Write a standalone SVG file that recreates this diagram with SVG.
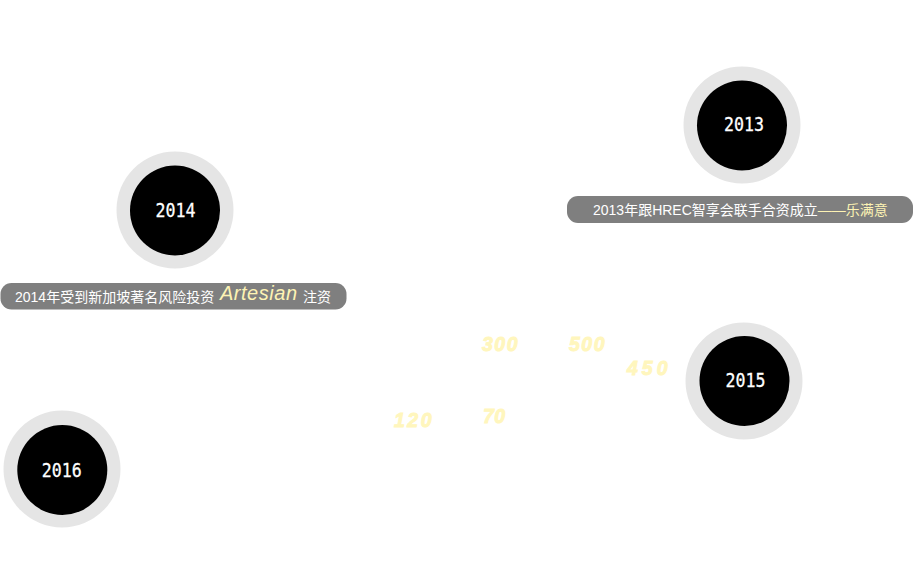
<svg xmlns="http://www.w3.org/2000/svg" width="914" height="571" viewBox="0 0 914 571">
<style>
.ring{fill:#e5e5e5}
.core{fill:#000}
.year{fill:#fff;font-family:"DejaVu Sans Mono","Liberation Mono",monospace;font-size:20px;text-anchor:middle;stroke:#fff;stroke-width:0.3}
.pill{fill:#7f7f7f}
.ptxt{fill:#fff;font-family:"Liberation Sans","Noto Sans CJK SC",sans-serif;font-size:14px}
.hl{fill:#fdf3b4}
.num{fill:#fff6bd;stroke:#fff6bd;stroke-width:0.9;font-family:"Liberation Sans",Arial,sans-serif;font-size:19.5px;font-weight:bold;font-style:italic}
</style>
<rect width="914" height="571" fill="#fff"/>
<g id="connectors"/>
<g id="node-2013">
<circle class="ring" cx="742" cy="125" r="58.5"/>
<circle class="core" cx="742" cy="125.5" r="45"/>
<text class="year" x="744" y="131" textLength="40" lengthAdjust="spacingAndGlyphs">2013</text>
<rect class="pill" x="567" y="196" width="346" height="27" rx="11"/>
<text class="ptxt" x="593" y="215">2013年跟HREC智享会联手合资成立<tspan class="hl">——乐满意</tspan></text>
</g>
<g id="node-2014">
<circle class="ring" cx="175" cy="210" r="58.5"/>
<circle class="core" cx="175" cy="210.5" r="45"/>
<text class="year" x="175.5" y="216.5" textLength="40" lengthAdjust="spacingAndGlyphs">2014</text>
<rect class="pill" x="0.5" y="283" width="346" height="26.5" rx="11"/>
<text class="ptxt" x="15" y="301.5">2014年受到新加坡著名风险投资</text>
<text class="hl" x="220" y="300" font-family="Liberation Sans,Arial,sans-serif" font-size="20" font-style="italic" textLength="77">Artesian</text>
<text class="ptxt" x="303" y="301.5">注资</text>
</g>
<g id="node-2015">
<circle class="ring" cx="744" cy="381" r="58.5"/>
<circle class="core" cx="744.5" cy="381" r="45"/>
<text class="year" x="745.5" y="386.5" textLength="40" lengthAdjust="spacingAndGlyphs">2015</text>
</g>
<g id="node-2016">
<circle class="ring" cx="62" cy="469" r="58.5"/>
<circle class="core" cx="62.3" cy="470" r="45"/>
<text class="year" x="61.7" y="477" textLength="40" lengthAdjust="spacingAndGlyphs">2016</text>
</g>
<g id="numbers">
<text class="num" x="482" y="351" letter-spacing="1.5">300</text>
<text class="num" x="569" y="351" letter-spacing="1.5">500</text>
<text class="num" x="627" y="374.5" letter-spacing="4">450</text>
<text class="num" x="394" y="427" letter-spacing="2.5">120</text>
<text class="num" x="483" y="422.5" letter-spacing="0.5">70</text>
</g>
</svg>
